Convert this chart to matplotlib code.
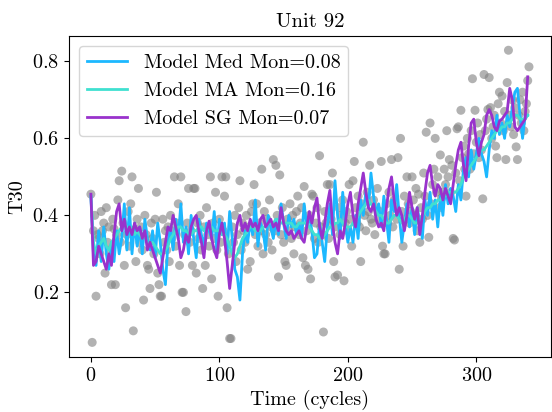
import numpy as np
import matplotlib
matplotlib.use('Agg')
import matplotlib.pyplot as plt

plt.rcParams['font.family'] = 'serif'
plt.rcParams['font.serif'] = ['cmr10', 'DejaVu Serif']
plt.rcParams['mathtext.fontset'] = 'cm'
plt.rcParams['axes.formatter.use_mathtext'] = True
plt.rcParams['font.size'] = 14.5

# observed T30 sensor values, one per cycle
t30 = [
    0.455, 0.07, 0.36, 0.40, 0.19, 0.35, 0.34, 0.30, 0.41, 0.36, 0.38, 0.25, 0.42, 0.33, 0.37, 0.31, 0.22, 0.39, 0.365, 0.22,
    0.35, 0.44, 0.49, 0.33, 0.515, 0.38, 0.27, 0.16, 0.35, 0.41, 0.32, 0.43, 0.50, 0.10, 0.36, 0.28, 0.39, 0.47, 0.33, 0.37,
    0.31, 0.18, 0.40, 0.35, 0.27, 0.26, 0.21, 0.38, 0.34, 0.30, 0.39, 0.46, 0.25, 0.22, 0.19, 0.19, 0.39, 0.33, 0.36, 0.31,
    0.37, 0.28, 0.40, 0.34, 0.36, 0.50, 0.32, 0.38, 0.43, 0.27, 0.50, 0.20, 0.20, 0.35, 0.15, 0.38, 0.47, 0.33, 0.36, 0.27,
    0.47, 0.47, 0.25, 0.38, 0.34, 0.40, 0.31, 0.21, 0.37, 0.27, 0.42, 0.35, 0.32, 0.50, 0.235, 0.38, 0.34, 0.46, 0.31, 0.19,
    0.39, 0.33, 0.50, 0.36, 0.45, 0.50, 0.16, 0.30, 0.08, 0.08, 0.37, 0.33, 0.40, 0.28, 0.35, 0.42, 0.49, 0.31, 0.38, 0.36,
    0.33, 0.40, 0.26, 0.37, 0.28, 0.41, 0.43, 0.48, 0.35, 0.43, 0.32, 0.38, 0.36, 0.52, 0.30, 0.41, 0.35, 0.39, 0.33, 0.44,
    0.37, 0.31, 0.545, 0.36, 0.53, 0.40, 0.24, 0.505, 0.35, 0.42, 0.33, 0.28, 0.27, 0.39, 0.36, 0.43, 0.34, 0.40, 0.30, 0.37,
    0.41, 0.45, 0.35, 0.38, 0.42, 0.29, 0.475, 0.27, 0.36, 0.26, 0.40, 0.235, 0.455, 0.45, 0.34, 0.38, 0.42, 0.33, 0.555, 0.37,
    0.35, 0.097, 0.41, 0.38, 0.48, 0.34, 0.48, 0.39, 0.51, 0.28, 0.24, 0.37, 0.245, 0.42, 0.35, 0.40, 0.44, 0.23, 0.38, 0.41,
    0.36, 0.48, 0.39, 0.32, 0.49, 0.54, 0.42, 0.38, 0.45, 0.37, 0.28, 0.43, 0.59, 0.40, 0.36, 0.46, 0.41, 0.53, 0.39, 0.38,
    0.44, 0.35, 0.42, 0.47, 0.39, 0.41, 0.54, 0.32, 0.30, 0.30, 0.43, 0.38, 0.46, 0.40, 0.545, 0.37, 0.44, 0.42, 0.39, 0.55,
    0.26, 0.60, 0.41, 0.32, 0.45, 0.39, 0.50, 0.43, 0.38, 0.41, 0.50, 0.44, 0.40, 0.47, 0.36, 0.455, 0.33, 0.42, 0.39, 0.51,
    0.45, 0.616, 0.40, 0.343, 0.64, 0.43, 0.48, 0.52, 0.60, 0.46, 0.50, 0.42, 0.557, 0.445, 0.46, 0.52, 0.48, 0.62, 0.50, 0.545,
    0.46, 0.53, 0.34, 0.336, 0.51, 0.625, 0.63, 0.49, 0.673, 0.55, 0.58, 0.52, 0.45, 0.60, 0.56, 0.52, 0.62, 0.755, 0.56, 0.673,
    0.59, 0.64, 0.55, 0.61, 0.57, 0.443, 0.766, 0.62, 0.65, 0.675, 0.758, 0.68, 0.60, 0.63, 0.66, 0.58, 0.55, 0.69, 0.72, 0.64,
    0.71, 0.62, 0.67, 0.545, 0.745, 0.829, 0.66, 0.63, 0.70, 0.61, 0.68, 0.578, 0.545, 0.66, 0.70, 0.64, 0.72, 0.62, 0.67, 0.69,
    0.75, 0.786,
]
cycles = np.arange(len(t30))

# model outputs, read every 2 cycles
line_cycles = np.arange(0, 342, 2)
med = [
    0.45, 0.30, 0.27, 0.36, 0.28, 0.37, 0.30, 0.26, 0.33, 0.28, 0.36, 0.30, 0.34, 0.43, 0.31, 0.42, 0.30, 0.38, 0.32, 0.37,
    0.30, 0.39, 0.34, 0.31, 0.36, 0.29, 0.38, 0.33, 0.26, 0.22, 0.33, 0.37, 0.31, 0.39, 0.34, 0.43, 0.33, 0.37, 0.30, 0.40,
    0.34, 0.29, 0.39, 0.35, 0.32, 0.38, 0.36, 0.34, 0.41, 0.31, 0.39, 0.35, 0.38, 0.30, 0.41, 0.34, 0.26, 0.24, 0.18, 0.30,
    0.36, 0.33, 0.38, 0.35, 0.44, 0.32, 0.38, 0.36, 0.31, 0.40, 0.37, 0.34, 0.39, 0.35, 0.43, 0.38, 0.34, 0.40, 0.37, 0.39,
    0.35, 0.38, 0.34, 0.43, 0.37, 0.40, 0.36, 0.29, 0.30, 0.38, 0.33, 0.28, 0.37, 0.43, 0.35, 0.49, 0.40, 0.34, 0.46, 0.38,
    0.33, 0.37, 0.33, 0.40, 0.34, 0.44, 0.40, 0.46, 0.42, 0.51, 0.45, 0.40, 0.43, 0.37, 0.45, 0.39, 0.33, 0.44, 0.41, 0.48,
    0.40, 0.33, 0.38, 0.43, 0.37, 0.42, 0.35, 0.42, 0.38, 0.34, 0.44, 0.40, 0.46, 0.39, 0.44, 0.37, 0.45, 0.40, 0.48, 0.43,
    0.47, 0.45, 0.41, 0.48, 0.44, 0.52, 0.55, 0.50, 0.57, 0.52, 0.56, 0.60, 0.56, 0.54, 0.50, 0.57, 0.62, 0.60, 0.66, 0.61,
    0.64, 0.60, 0.66, 0.63, 0.68, 0.72, 0.73, 0.66, 0.60, 0.66, 0.66,
]
ma = [
    0.45, 0.33, 0.30, 0.32, 0.33, 0.34, 0.32, 0.31, 0.33, 0.34, 0.35, 0.36, 0.37, 0.38, 0.37, 0.36, 0.37, 0.35, 0.36, 0.35,
    0.34, 0.35, 0.33, 0.32, 0.33, 0.32, 0.31, 0.30, 0.30, 0.31, 0.32, 0.34, 0.35, 0.36, 0.37, 0.37, 0.36, 0.36, 0.35, 0.35,
    0.36, 0.36, 0.37, 0.37, 0.36, 0.36, 0.37, 0.37, 0.36, 0.36, 0.36, 0.35, 0.35, 0.34, 0.32, 0.30, 0.29, 0.30, 0.32, 0.34,
    0.35, 0.36, 0.37, 0.37, 0.36, 0.36, 0.36, 0.37, 0.37, 0.38, 0.38, 0.38, 0.39, 0.39, 0.38, 0.38, 0.38, 0.38, 0.38, 0.37,
    0.37, 0.38, 0.38, 0.38, 0.38, 0.37, 0.36, 0.35, 0.35, 0.34, 0.34, 0.35, 0.36, 0.37, 0.37, 0.38, 0.38, 0.39, 0.38, 0.37,
    0.37, 0.37, 0.38, 0.39, 0.40, 0.41, 0.42, 0.43, 0.44, 0.43, 0.42, 0.41, 0.40, 0.40, 0.39, 0.38, 0.38, 0.39, 0.40, 0.40,
    0.39, 0.38, 0.39, 0.40, 0.40, 0.39, 0.38, 0.38, 0.39, 0.40, 0.41, 0.42, 0.42, 0.43, 0.43, 0.44, 0.44, 0.45, 0.45, 0.46,
    0.46, 0.46, 0.46, 0.47, 0.48, 0.50, 0.51, 0.52, 0.53, 0.54, 0.55, 0.56, 0.57, 0.57, 0.58, 0.59, 0.60, 0.61, 0.62, 0.62,
    0.63, 0.63, 0.64, 0.64, 0.65, 0.66, 0.66, 0.65, 0.65, 0.65, 0.66,
]
sg = [
    0.455, 0.27, 0.28, 0.32, 0.30, 0.28, 0.26, 0.30, 0.27, 0.35, 0.41, 0.43, 0.36, 0.39, 0.35, 0.37, 0.35, 0.38, 0.36, 0.37,
    0.34, 0.36, 0.31, 0.33, 0.31, 0.29, 0.27, 0.25, 0.29, 0.33, 0.37, 0.36, 0.40, 0.37, 0.34, 0.29, 0.31, 0.35, 0.33, 0.37,
    0.39, 0.40, 0.36, 0.33, 0.29, 0.36, 0.385, 0.34, 0.31, 0.29, 0.35, 0.38, 0.34, 0.28, 0.21, 0.27, 0.33, 0.38, 0.40, 0.36,
    0.38, 0.36, 0.39, 0.37, 0.38, 0.36, 0.39, 0.40, 0.37, 0.38, 0.39, 0.37, 0.38, 0.36, 0.42, 0.38, 0.36, 0.35, 0.36, 0.34,
    0.35, 0.36, 0.34, 0.33, 0.37, 0.41, 0.38, 0.42, 0.445, 0.37, 0.34, 0.38, 0.43, 0.465, 0.38, 0.33, 0.30, 0.36, 0.34, 0.38,
    0.43, 0.46, 0.40, 0.37, 0.43, 0.47, 0.51, 0.46, 0.42, 0.41, 0.43, 0.39, 0.37, 0.38, 0.36, 0.42, 0.47, 0.50, 0.44, 0.40,
    0.42, 0.40, 0.36, 0.40, 0.46, 0.42, 0.39, 0.42, 0.35, 0.40, 0.46, 0.51, 0.53, 0.48, 0.45, 0.48, 0.47, 0.44, 0.47, 0.45,
    0.43, 0.48, 0.53, 0.57, 0.59, 0.53, 0.49, 0.58, 0.64, 0.65, 0.59, 0.555, 0.59, 0.61, 0.66, 0.675, 0.66, 0.63, 0.62, 0.645,
    0.65, 0.66, 0.67, 0.73, 0.70, 0.63, 0.62, 0.63, 0.64, 0.65, 0.76,
]

fig = plt.figure(figsize=(5.52, 4.12), dpi=100)
ax = fig.add_axes([0.125, 0.1335, 0.873, 0.78])

ax.scatter(cycles, t30, s=42, color='gray', alpha=0.6, edgecolors='none')
ax.plot(line_cycles, med, color='#1cb8ff', lw=2.0, label='Model Med Mon=0.08')
ax.plot(line_cycles, ma, color='turquoise', lw=2.0, label='Model MA Mon=0.16')
ax.plot(line_cycles, sg, color='darkorchid', lw=2.0, label='Model SG Mon=0.07')

ax.set_title('Unit 92', fontsize=15)
ax.set_xlabel('Time (cycles)')
ax.set_ylabel('T30')
ax.set_xticks([0, 100, 200, 300])
ax.set_yticks([0.2, 0.4, 0.6, 0.8])
ax.legend(loc='upper left')

plt.savefig('out.png', dpi=100)
